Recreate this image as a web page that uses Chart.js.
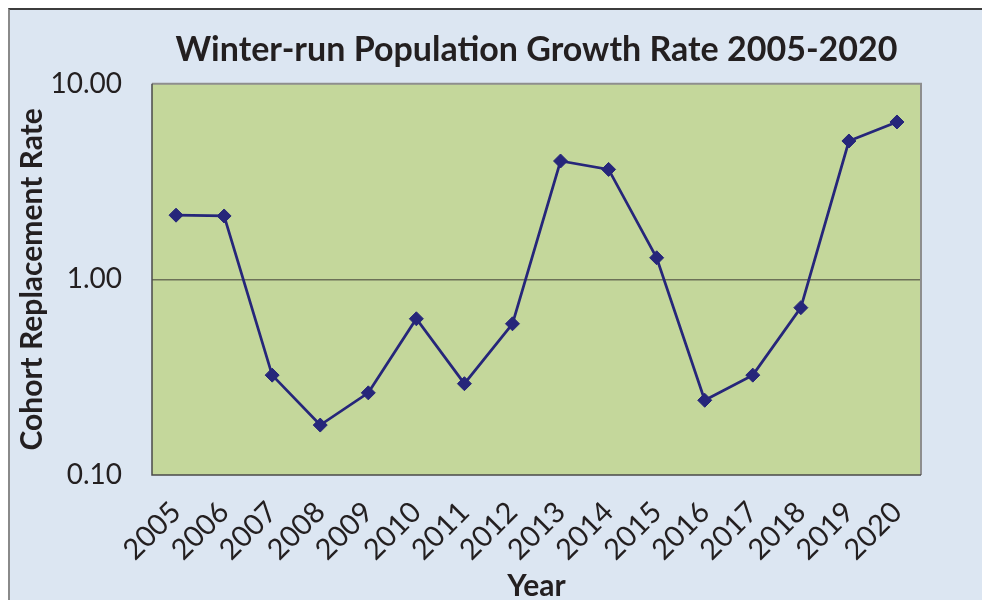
<!DOCTYPE html>
<html>
<head>
<meta charset="utf-8">
<script src="https://cdn.jsdelivr.net/npm/chart.js@4.4.1/dist/chart.umd.min.js"></script>
<style>
  body { margin: 0; background: #ffffff; overflow: hidden; }
  #frame {
    position: absolute; left: 8px; top: 8px; width: 1000px; height: 620px;
    background: #dce6f2;
    border-left: 2px solid #8a8a8a;
    border-top: 2px solid #3c3c3c;
  }
  #chart { position: absolute; left: 0; top: 0; }
</style>
</head>
<body>
<div id="frame"></div>
<canvas id="chart" width="982" height="600"></canvas>
<script>
// values
let years = ['2005', '2006', '2007', '2008', '2009', '2010', '2011', '2012',
             '2013', '2014', '2015', '2016', '2017', '2018', '2019', '2020'];
let rates = [2.13, 2.11, 0.324, 0.180, 0.263, 0.629, 0.293, 0.593,
             4.03, 3.65, 1.29, 0.241, 0.324, 0.717, 5.10, 6.38];
let yTicks = [0.1, 1, 10];
let yTickLabels = ['0.10', '1.00', '10.00'];

let textColor = '#231f20';

// green plot area with its frame
let plotArea = {
    id: 'plotArea',
    beforeDraw: function(chart) {
        let a = chart.chartArea;
        let ctx = chart.ctx;
        ctx.save();
        ctx.fillStyle = '#c4d79b';
        ctx.fillRect(a.left, a.top, a.right - a.left, a.bottom - a.top);
        ctx.restore();
    },
    beforeDatasetsDraw: function(chart) {
        let a = chart.chartArea;
        let ctx = chart.ctx;
        ctx.save();
        ctx.lineWidth = 2;
        ctx.strokeStyle = '#8e8e8e';
        ctx.beginPath();
        ctx.moveTo(a.left, a.top);
        ctx.lineTo(a.right, a.top);
        ctx.lineTo(a.right, a.bottom);
        ctx.stroke();
        ctx.strokeStyle = '#4a4a4a';
        ctx.lineWidth = 1.5;
        ctx.beginPath();
        ctx.moveTo(a.left, a.top);
        ctx.lineTo(a.left, a.bottom);
        ctx.lineTo(a.right, a.bottom);
        ctx.stroke();
        ctx.restore();
    }
};

let ctx = document.getElementById('chart').getContext('2d');

new Chart(ctx, {
    type: 'line',
    data: {
        labels: years,
        datasets: [{
            label: 'Cohort Replacement Rate',
            data: rates,
            borderColor: '#26267a',
            backgroundColor: '#26267a',
            borderWidth: 2.75,
            tension: 0,
            pointStyle: 'rectRot',
            pointRadius: 7,
            pointBorderWidth: 1,
            pointBackgroundColor: '#26267a',
            pointBorderColor: '#26267a'
        }]
    },
    options: {
        responsive: false,
        animation: false,
        devicePixelRatio: 1,
        layout: {
            padding: { left: 0, right: 61, top: 0, bottom: 0 }
        },
        plugins: {
            legend: { display: false },
            tooltip: { enabled: false },
            title: {
                display: true,
                text: 'Winter-run Population Growth Rate 2005-2020',
                color: textColor,
                fullSize: false,
                font: { family: 'Lato', size: 34, weight: 'bold', lineHeight: 1.2 },
                padding: { top: 30, bottom: 13 }
            }
        },
        scales: {
            x: {
                offset: true,
                grid: { display: false, drawTicks: false, tickLength: 0 },
                border: { display: false },
                ticks: {
                    color: textColor,
                    font: { family: 'Lato', size: 29 },
                    minRotation: 45,
                    maxRotation: 45,
                    autoSkip: false,
                    padding: 20
                },
                title: {
                    display: true,
                    text: 'Year',
                    color: textColor,
                    font: { family: 'Lato', size: 30, weight: 'bold', lineHeight: 1.2 },
                    padding: { top: 0, bottom: -4 }
                },
                afterFit: function(scale) {
                    scale.height = 125;
                }
            },
            y: {
                type: 'logarithmic',
                min: 0.1,
                max: 10,
                grid: {
                    drawTicks: false,
                    tickLength: 0,
                    lineWidth: 1.5,
                    color: function(c) {
                        return c.tick && c.tick.value === 1 ? '#6c7158' : 'rgba(0,0,0,0)';
                    }
                },
                border: { display: false },
                afterBuildTicks: function(scale) {
                    scale.ticks = yTicks.map(v => ({ value: v }));
                },
                ticks: {
                    color: textColor,
                    font: { family: 'Lato', size: 28 },
                    padding: 30,
                    callback: function(value) {
                        let i = yTicks.indexOf(value);
                        return i >= 0 ? yTickLabels[i] : '';
                    }
                },
                title: {
                    display: true,
                    text: 'Cohort Replacement Rate',
                    color: textColor,
                    font: { family: 'Lato', size: 30, weight: 'bold', lineHeight: 1.2 },
                    padding: { top: 14, bottom: 0 }
                },
                afterFit: function(scale) {
                    scale.width = 152;
                }
            }
        }
    },
    plugins: [plotArea]
});
</script>
</body>
</html>
